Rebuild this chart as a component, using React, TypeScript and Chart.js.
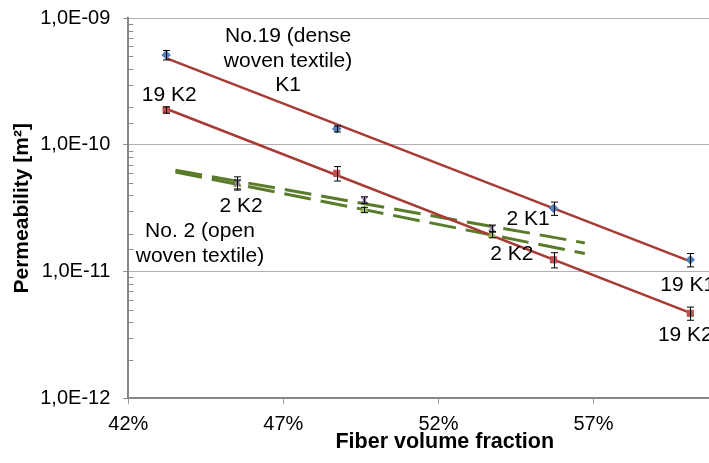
import React, { useEffect, useRef } from 'react';
import { Chart, registerables } from 'chart.js';

Chart.register(...registerables);

// ---- data (fiber volume fraction in %, permeability in m²) ----
const xDense = [43.22, 48.72, 55.71, 60.12];
const denseK1 = [5.13e-10, 1.34e-10, 3.16e-11, 1.24e-11];
const denseK1Err = [4.4e-11, 7.4e-12, 3.8e-12, 1.5e-12];
const denseK2 = [1.89e-10, 5.97e-11, 1.24e-11, 4.69e-12];
const denseK2Err = [1.1e-11, 7.8e-12, 1.7e-12, 5.6e-13];

const xOpen = [45.52, 49.61, 53.72];
const openK1 = [5.0e-11, 3.68e-11, 2.2e-11];
const openK1Err = [6e-12, 2.2e-12, 1.3e-12];
const openK2 = [4.9e-11, 3.07e-11, 1.95e-11];
const openK2Err = [4e-12, 1.5e-12, 1e-12];

// trendline forecast (in % units) for the open textile fits
const openForecastBack = 2;
const openForecastForward = 3;

const xTicks = [42, 47, 52, 57];
const xTickLabels = ['42%', '47%', '52%', '57%'];
const yTicks = [1e-12, 1e-11, 1e-10, 1e-9];
const yTickLabels = ['1,0E-12', '1,0E-11', '1,0E-10', '1,0E-09'];

// annotation texts anchored in data coordinates
const notes = [
  { lines: ['No.19 (dense', 'woven textile)', 'K1'], x: 47.15, y: 4.6e-10 },
  { lines: ['19 K2'], x: 43.32, y: 2.48e-10 },
  { lines: ['2 K2'], x: 45.64, y: 3.3e-11 },
  { lines: ['No. 2 (open', 'woven textile)'], x: 44.31, y: 1.667e-11 },
  { lines: ['2 K1'], x: 54.89, y: 2.6e-11 },
  { lines: ['2 K2'], x: 54.37, y: 1.378e-11 },
  { lines: ['19 K1'], x: 60.04, y: 7.85e-12 },
  { lines: ['19 K2'], x: 59.96, y: 3.16e-12 },
];

const FONT = '"Liberation Sans", Arial, sans-serif';

function expFit(xs: number[], ys: number[]) {
  const ls = ys.map((v) => Math.log10(v));
  const n = xs.length;
  const mx = xs.reduce((a, b) => a + b, 0) / n;
  const my = ls.reduce((a, b) => a + b, 0) / n;
  let sxy = 0;
  let sxx = 0;
  for (let i = 0; i < n; i++) {
    sxy += (xs[i] - mx) * (ls[i] - my);
    sxx += (xs[i] - mx) * (xs[i] - mx);
  }
  const b = sxy / sxx;
  const a = my - b * mx;
  return (x: number) => Math.pow(10, a + b * x);
}

function trend(xs: number[], ys: number[], back = 0, fwd = 0) {
  const f = expFit(xs, ys);
  const x0 = Math.min(...xs) - back;
  const x1 = Math.max(...xs) + fwd;
  return [
    { x: x0, y: f(x0) },
    { x: x1, y: f(x1) },
  ];
}

const pts = (xs: number[], ys: number[]) => xs.map((x, i) => ({ x, y: ys[i] }));

const isDecade = (v: number) => {
  const l = Math.log10(v);
  return Math.abs(l - Math.round(l)) < 1e-6;
};

const errSets = [
  { xs: xDense, ys: denseK1, es: denseK1Err },
  { xs: xDense, ys: denseK2, es: denseK2Err },
  { xs: xOpen, ys: openK1, es: openK1Err },
  { xs: xOpen, ys: openK2, es: openK2Err },
];

const overlay = {
  id: 'overlay',
  afterDatasetsDraw(chart: any) {
    const { ctx, scales, chartArea } = chart;
    const x = scales.x;
    const y = scales.y;
    ctx.save();
    // minor ticks inside plot along y-axis
    ctx.strokeStyle = '#8c8c8c';
    ctx.lineWidth = 1;
    y.ticks.forEach((t: any) => {
      if (isDecade(t.value)) return;
      const py = Math.round(y.getPixelForValue(t.value)) + 0.5;
      ctx.beginPath();
      ctx.moveTo(chartArea.left, py);
      ctx.lineTo(chartArea.left + 5, py);
      ctx.stroke();
    });
    // error bars
    ctx.strokeStyle = '#000';
    ctx.lineWidth = 1;
    errSets.forEach(({ xs, ys, es }) => {
      xs.forEach((xv, i) => {
        const px = Math.round(x.getPixelForValue(xv)) + 0.5;
        const top = y.getPixelForValue(ys[i] + es[i]);
        const bot = y.getPixelForValue(ys[i] - es[i]);
        ctx.beginPath();
        ctx.moveTo(px, top);
        ctx.lineTo(px, bot);
        ctx.moveTo(px - 3.5, top);
        ctx.lineTo(px + 3.5, top);
        ctx.moveTo(px - 3.5, bot);
        ctx.lineTo(px + 3.5, bot);
        ctx.stroke();
      });
    });
    ctx.restore();
  },
  afterDraw(chart: any) {
    const { ctx, scales } = chart;
    const x = scales.x;
    const y = scales.y;
    ctx.save();
    ctx.font = `21px ${FONT}`;
    ctx.fillStyle = '#000';
    ctx.textAlign = 'center';
    ctx.textBaseline = 'middle';
    const lh = 24.5;
    notes.forEach((n) => {
      const cx = x.getPixelForValue(n.x);
      const cy = y.getPixelForValue(n.y);
      const start = cy - ((n.lines.length - 1) * lh) / 2;
      n.lines.forEach((line, i) => ctx.fillText(line, cx, start + i * lh));
    });
    ctx.restore();
  },
};

export default function App() {
  const ref = useRef<HTMLCanvasElement>(null);

  useEffect(() => {
    if (!ref.current) return;
    const blue = '#4F81BD';
    const red = '#C0504D';
    const purple = '#8064A2';
    const green = '#9BBB59';
    const trendRed = '#A83A34';
    const trendGreen = '#5A7B2A';

    const chart = new Chart(ref.current, {
      type: 'scatter',
      data: {
        datasets: [
          { label: '19 K1', data: pts(xDense, denseK1), pointStyle: 'rectRot', pointRadius: 4.3, backgroundColor: blue, borderColor: blue, borderWidth: 1 },
          { label: '19 K2', data: pts(xDense, denseK2), pointStyle: 'rect', pointRadius: 4.4, backgroundColor: red, borderColor: red, borderWidth: 1 },
          { label: '2 K1', data: pts(xOpen, openK1), pointStyle: 'crossRot', pointRadius: 4.2, backgroundColor: purple, borderColor: purple, borderWidth: 1.5 },
          { label: '2 K2', data: pts(xOpen, openK2), pointStyle: 'triangle', pointRadius: 4.3, backgroundColor: green, borderColor: green, borderWidth: 1 },
          { label: 'trend 19 K1', data: trend(xDense, denseK1), showLine: true, pointRadius: 0, borderColor: trendRed, borderWidth: 2.5 },
          { label: 'trend 19 K2', data: trend(xDense, denseK2), showLine: true, pointRadius: 0, borderColor: trendRed, borderWidth: 2.5 },
          { label: 'trend 2 K1', data: trend(xOpen, openK1, openForecastBack, openForecastForward), showLine: true, pointRadius: 0, borderColor: trendGreen, borderWidth: 3, borderDash: [27, 10] },
          { label: 'trend 2 K2', data: trend(xOpen, openK2, openForecastBack, openForecastForward), showLine: true, pointRadius: 0, borderColor: trendGreen, borderWidth: 3, borderDash: [27, 10] },
        ] as any,
      },
      options: {
        animation: false,
        responsive: false,
        devicePixelRatio: 1,
        layout: { padding: { top: 18.3, left: 0, right: 0, bottom: 0 } },
        plugins: { legend: { display: false }, tooltip: { enabled: false } },
        scales: {
          x: {
            type: 'linear',
            min: 42,
            max: 62.41,
            afterBuildTicks: (scale: any) => {
              scale.ticks = xTicks.map((v) => ({ value: v }));
            },
            afterFit: (scale: any) => {
              scale.height = 64.7;
              scale.paddingLeft = 0;
              scale.paddingRight = 0;
            },
            grid: { display: true, drawOnChartArea: false, drawTicks: true, tickLength: 6, tickColor: '#a0a0a0' },
            border: { display: true, color: '#878787', width: 2 },
            ticks: {
              autoSkip: false,
              maxRotation: 0,
              padding: 8,
              color: '#000',
              font: { family: FONT, size: 20 },
              callback: (v: any) => {
                const i = xTicks.indexOf(Number(v));
                return i >= 0 ? xTickLabels[i] : '';
              },
            },
            title: {
              display: true,
              text: 'Fiber volume fraction',
              color: '#000',
              font: { family: FONT, size: 21.5, weight: 'bold' },
              padding: { top: 0, bottom: 8 },
            },
          },
          y: {
            type: 'logarithmic',
            min: 1e-12,
            max: 1e-9,
            afterFit: (scale: any) => {
              scale.width = 128.3;
              scale.paddingTop = 0;
              scale.paddingBottom = 0;
            },
            grid: {
              display: true,
              drawTicks: true,
              tickLength: 5,
              color: (c: any) => (c.tick && isDecade(c.tick.value) ? '#b0b0b0' : 'rgba(0,0,0,0)'),
              tickColor: (c: any) => (c.tick && isDecade(c.tick.value) ? '#8c8c8c' : 'rgba(0,0,0,0)'),
            },
            border: { display: true, color: '#878787', width: 2 },
            ticks: {
              autoSkip: false,
              padding: 13,
              color: '#000',
              font: { family: FONT, size: 20 },
              callback: (v: any) => {
                const i = yTicks.findIndex((t) => Math.abs(Math.log10(t) - Math.log10(Number(v))) < 1e-6);
                return i >= 0 ? yTickLabels[i] : '';
              },
            },
            title: {
              display: true,
              text: 'Permeability [m²]',
              color: '#000',
              font: { family: FONT, size: 21, weight: 'bold' },
              padding: { top: 10, bottom: 0 },
            },
          },
        },
      } as any,
      plugins: [overlay],
    });
    return () => chart.destroy();
  }, []);

  return (
    <div style={{ position: 'fixed', left: 0, top: 0, width: 709, height: 463, overflow: 'hidden', background: '#fff' }}>
      <canvas ref={ref} width={767} height={463} style={{ display: 'block', width: 767, height: 463 }} />
    </div>
  );
}
